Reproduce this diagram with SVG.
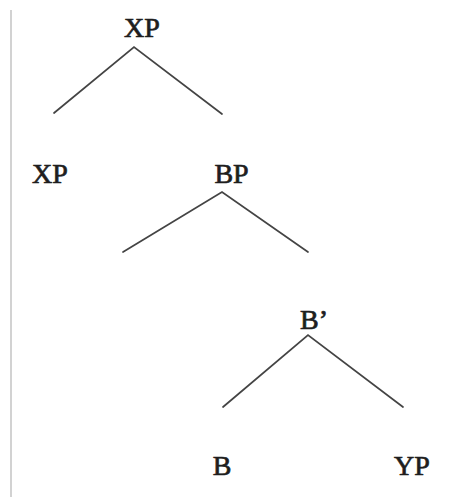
<svg xmlns="http://www.w3.org/2000/svg" width="471" height="497" viewBox="0 0 471 497">
<style>
.lbl{font-family:"Liberation Serif","Times New Roman",serif;font-size:28px;fill:#1e1e1e;stroke:#1e1e1e;stroke-width:0.7;text-anchor:middle}
.edge{stroke:#444;stroke-width:1.7;fill:none;stroke-linecap:round}
</style>
<rect width="471" height="497" fill="#fff"/>
<line x1="11" y1="10" x2="11" y2="497" stroke="#d2d2d2" stroke-width="2"/>
<g id="connectors">
<polyline class="edge" points="54,113 134,47 222,114"/>
<polyline class="edge" points="123,252 222,192 308,252"/>
<polyline class="edge" points="223,407 308,335 403,407"/>
</g>
<g id="n-xp-top"><text class="lbl" x="142" y="37">XP</text></g>
<g id="n-xp-left"><text class="lbl" x="50" y="183">XP</text></g>
<g id="n-bp"><text class="lbl" x="231.5" y="183">BP</text></g>
<g id="n-bbar"><text class="lbl" x="314" y="329">B’</text></g>
<g id="n-b"><text class="lbl" x="222" y="475">B</text></g>
<g id="n-yp"><text class="lbl" x="412" y="475">YP</text></g>
</svg>
